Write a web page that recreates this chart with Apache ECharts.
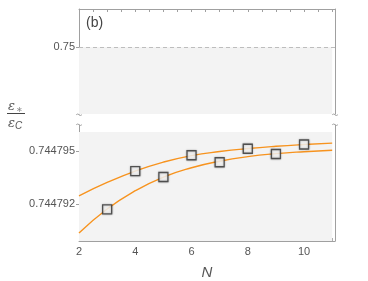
<!DOCTYPE html>
<html>
<head>
<meta charset="utf-8">
<script src="https://cdn.jsdelivr.net/npm/echarts@6/dist/echarts.min.js"></script>
<style>html,body{margin:0;padding:0;background:#fff}#c{width:368px;height:281px}</style>
</head>
<body>
<div id="c"></div>
<script>
// ---- data ----
const curveN = [2, 3, 4, 5, 6, 7, 8, 9, 10, 11];
const upperCurve = [0.74479247, 0.74479323, 0.74479388, 0.74479439, 0.74479476, 0.74479499, 0.74479516, 0.74479529, 0.74479539, 0.74479547];
const lowerCurve = [0.74479035, 0.74479172, 0.74479276, 0.74479354, 0.74479407, 0.74479444, 0.74479470, 0.74479487, 0.74479498, 0.74479506];
const markerN = [3, 4, 5, 6, 7, 8, 9, 10];
const markerValues = [0.74479170, 0.74479388, 0.74479354, 0.74479478, 0.74479438, 0.74479515, 0.74479485, 0.74479539];
const xTickLabels = [2, 4, 6, 8, 10];
const yTickLabelsBottom = [0.744792, 0.744795];
const yTickLabelsTop = [0.75];
const carnotRef = 0.75;
const shadeTopBottom = 0.7447961;

const ORANGE = '#f7931e';
const FRAME = '#a0a0a0';
const TXT = '#555';
const FONT = 'Liberation Sans';

const chart = echarts.init(document.getElementById('c'), null, {renderer: 'canvas'});

function pairs(xs, ys) { return xs.map((x, i) => [x, ys[i]]); }

const xMin = 2, xMax = 11.1;
const bMin = 0.7447899, bMax = 0.7447965;
const tMin = 0.7437, tMax = 0.7437 + 0.0063 * 105 / 67;

const option = {
  animation: false,
  backgroundColor: '#fff',
  grid: [
    {left: 79, right: 33, top: 9, bottom: 281 - 114},
    {left: 79, right: 33, top: 125, bottom: 281 - 242}
  ],
  xAxis: [
    {
      gridIndex: 0, type: 'value', min: xMin, max: xMax, interval: 0.5, position: 'top',
      axisLine: {show: true, lineStyle: {color: FRAME, width: 1}},
      axisTick: {show: true, inside: true, length: 3, lineStyle: {color: FRAME}},
      axisLabel: {show: false}, splitLine: {show: false}
    },
    {
      gridIndex: 1, type: 'value', min: xMin, max: xMax, interval: 0.5, position: 'bottom',
      axisLine: {show: true, onZero: false, lineStyle: {color: FRAME, width: 1}},
      axisTick: {show: true, inside: true, length: 3, lineStyle: {color: FRAME}},
      axisLabel: {show: true, customValues: xTickLabels, color: TXT, fontFamily: FONT, fontSize: 11, margin: 5,
        formatter: v => String(v)},
      splitLine: {show: false},
      name: 'N', nameLocation: 'middle', nameGap: 24,
      nameTextStyle: {color: TXT, fontFamily: FONT, fontSize: 15, fontStyle: 'italic'}
    }
  ],
  yAxis: [
    {
      gridIndex: 0, type: 'value', min: tMin, max: tMax, position: 'left',
      axisLine: {show: true, onZero: false, lineStyle: {color: FRAME}},
      axisTick: {show: true, customValues: yTickLabelsTop, inside: false, length: 3, lineStyle: {color: FRAME}},
      axisLabel: {show: true, customValues: yTickLabelsTop, color: TXT, fontFamily: FONT, fontSize: 11, margin: 4,
        formatter: v => String(v)},
      splitLine: {show: false}
    },
    {
      gridIndex: 0, type: 'value', min: tMin, max: tMax, position: 'right',
      axisLine: {show: true, onZero: false, lineStyle: {color: FRAME}},
      axisTick: {show: false}, axisLabel: {show: false}, splitLine: {show: false}
    },
    {
      gridIndex: 1, type: 'value', min: bMin, max: bMax, position: 'left',
      axisLine: {show: true, onZero: false, lineStyle: {color: FRAME}},
      axisTick: {show: true, customValues: yTickLabelsBottom, inside: false, length: 3, lineStyle: {color: FRAME}},
      axisLabel: {show: true, customValues: yTickLabelsBottom, color: TXT, fontFamily: FONT, fontSize: 11, margin: 4,
        formatter: v => v.toFixed(6)},
      splitLine: {show: false}
    },
    {
      gridIndex: 1, type: 'value', min: bMin, max: bMax, position: 'right',
      axisLine: {show: true, onZero: false, lineStyle: {color: FRAME}},
      axisTick: {show: false}, axisLabel: {show: false}, splitLine: {show: false}
    }
  ],
  series: [
    {
      type: 'line', xAxisIndex: 0, yAxisIndex: 0, data: [], silent: true,
      markArea: {silent: true, itemStyle: {color: '#f3f3f3'},
        data: [[{coord: [2, tMin]}, {coord: [11, carnotRef]}]]},
      markLine: {silent: true, symbol: 'none', label: {show: false},
        lineStyle: {color: '#bdbdbd', type: [4, 3], width: 1},
        data: [[{coord: [2, carnotRef]}, {coord: [xMax, carnotRef]}]]}
    },
    {
      type: 'line', xAxisIndex: 1, yAxisIndex: 2, data: [], silent: true,
      markArea: {silent: true, itemStyle: {color: '#f3f3f3'},
        data: [[{coord: [2, bMin]}, {coord: [11, shadeTopBottom]}]]}
    },
    {
      type: 'line', xAxisIndex: 1, yAxisIndex: 2, smooth: 0.5, showSymbol: false,
      data: pairs(curveN, upperCurve), lineStyle: {color: ORANGE, width: 1.4}, z: 3
    },
    {
      type: 'line', xAxisIndex: 1, yAxisIndex: 2, smooth: 0.5, showSymbol: false,
      data: pairs(curveN, lowerCurve), lineStyle: {color: ORANGE, width: 1.4}, z: 3
    },
    {
      type: 'scatter', xAxisIndex: 1, yAxisIndex: 2, symbol: 'rect', symbolSize: 9,
      data: pairs(markerN, markerValues),
      itemStyle: {color: '#fff', borderColor: '#333', borderWidth: 1.3,
        shadowColor: 'rgba(0,0,0,0.35)', shadowBlur: 2},
      z: 5
    }
  ],
  graphic: [
    {type: 'text', left: 86, top: 16, style: {text: '(b)', fill: '#444', font: '14px "Liberation Sans"'}},
    {type: 'text', left: 8, top: 100, style: {
      rich: {e: {fontFamily: 'DejaVu Serif', fontStyle: 'italic', fontSize: 13, fill: '#555'},
             s: {fontFamily: 'DejaVu Sans', fontSize: 8, fill: '#888', padding: [7, 0, 0, 1]}},
      text: '{e|ε}{s|∗}'}},
    {type: 'line', shape: {x1: 7, y1: 113.5, x2: 25, y2: 113.5}, style: {stroke: '#444', lineWidth: 1}},
    {type: 'text', left: 8, top: 117, style: {
      rich: {e: {fontFamily: 'DejaVu Serif', fontStyle: 'italic', fontSize: 13, fill: '#555'},
             s: {fontFamily: FONT, fontStyle: 'italic', fontSize: 10, fill: '#555', padding: [5, 0, 0, 0]}},
      text: '{e|ε}{s|C}'}},
    {type: 'polyline', shape: {points: [[76, 115], [78, 114], [80, 115.5], [82, 114.5]], smooth: 0.5}, style: {stroke: FRAME, lineWidth: 1, fill: null}},
    {type: 'polyline', shape: {points: [[76, 125], [78, 124], [80, 125.5], [82, 124.5]], smooth: 0.5}, style: {stroke: FRAME, lineWidth: 1, fill: null}},
    {type: 'polyline', shape: {points: [[332, 115], [334, 114], [336, 115.5], [338, 114.5]], smooth: 0.5}, style: {stroke: FRAME, lineWidth: 1, fill: null}},
    {type: 'polyline', shape: {points: [[332, 125], [334, 124], [336, 125.5], [338, 124.5]], smooth: 0.5}, style: {stroke: FRAME, lineWidth: 1, fill: null}}
  ]
};
chart.setOption(option);
</script>
</body>
</html>
